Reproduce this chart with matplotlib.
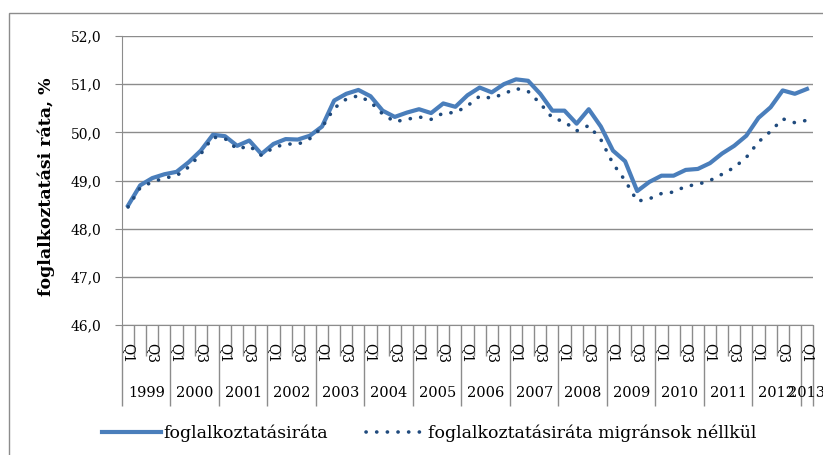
import numpy as np
import matplotlib.pyplot as plt
from matplotlib.patches import Rectangle
from matplotlib.lines import Line2D
from matplotlib import transforms

# quarterly data 1999 Q1 - 2013 Q1
years = [str(y) for y in range(1999, 2014)]
quarters = ["Q1", "Q2", "Q3", "Q4"] * 14 + ["Q1"]

rate = [48.48, 48.9, 49.05, 49.13, 49.18, 49.38, 49.62, 49.95, 49.92, 49.72,
        49.83, 49.55, 49.76, 49.86, 49.85, 49.93, 50.12, 50.66, 50.8, 50.88,
        50.75, 50.45, 50.32, 50.41, 50.48, 50.4, 50.6, 50.53, 50.77, 50.93,
        50.83, 51.0, 51.1, 51.07, 50.8, 50.45, 50.45, 50.18, 50.48, 50.12,
        49.62, 49.4, 48.78, 48.97, 49.1, 49.1, 49.22, 49.24, 49.36, 49.56,
        49.72, 49.93, 50.3, 50.52, 50.87, 50.8, 50.9]

rate_no_migr = [48.45, 48.85, 48.97, 49.05, 49.1, 49.28, 49.55, 49.9, 49.87, 49.65,
                49.72, 49.52, 49.68, 49.76, 49.75, 49.87, 50.1, 50.5, 50.69, 50.76,
                50.63, 50.38, 50.22, 50.27, 50.32, 50.27, 50.4, 50.41, 50.55, 50.75,
                50.71, 50.8, 50.91, 50.85, 50.6, 50.3, 50.22, 50.03, 50.14, 49.85,
                49.35, 49.0, 48.57, 48.62, 48.73, 48.76, 48.88, 48.92, 49.0, 49.13,
                49.27, 49.48, 49.8, 50.02, 50.28, 50.2, 50.25]

yticks = [46, 47, 48, 49, 50, 51, 52]

plt.rcParams['font.family'] = 'DejaVu Serif'
grey = '#8c8c8c'
blue = '#4a7ebb'
dark = '#1f4a7d'

fig = plt.figure(figsize=(8.23, 4.55), dpi=100)
ax = fig.add_axes([122/823, 1 - 325/455, (813-122)/823, (325-36)/455])

x = np.arange(len(rate))
ax.plot(x, rate, color=blue, lw=3, solid_joinstyle='round', zorder=3)
ax.plot(x, rate_no_migr, color=dark, lw=2.6, linestyle=(0, (0.05, 2.9)),
        dash_capstyle='round', zorder=3)

ax.set_xlim(-0.5, len(rate) - 0.5)
ax.set_ylim(46, 52)
ax.set_yticks(yticks)
ax.set_yticklabels([f"{v:.1f}".replace('.', ',') for v in yticks], fontsize=10)
ax.yaxis.grid(True, color=grey, lw=1)
ax.set_axisbelow(True)
ax.tick_params(axis='y', length=5, color=grey, pad=10)

for s in ['top', 'right']:
    ax.spines[s].set_visible(False)
for s in ['left', 'bottom']:
    ax.spines[s].set_color(grey)

# category separators: long at year boundaries, short otherwise
bounds = np.arange(len(rate) + 1) - 0.5
year_bounds = [b for i, b in enumerate(bounds) if i % 4 == 0 or i == len(rate)]
other_bounds = [b for b in bounds if b not in year_bounds]
ax.set_xticks(year_bounds)
ax.set_xticks(other_bounds, minor=True)
ax.set_xticklabels([])
ax.tick_params(axis='x', which='major', length=58, color=grey, width=1)
ax.tick_params(axis='x', which='minor', length=22, color=grey, width=1)

trans = transforms.blended_transform_factory(ax.transData, fig.transFigure)
for i, q in enumerate(quarters):
    if q in ("Q1", "Q3"):
        ax.text(i, 1 - 343/455, q, transform=trans, rotation=-90, fontsize=10,
                ha='center', va='top')
for k, yr in enumerate(years):
    start = 4 * k - 0.5
    end = min(4 * k + 3.5, len(rate) - 0.5)
    ax.text((start + end) / 2, 1 - 393/455, yr, transform=trans, fontsize=10.5,
            ha='center', va='center')

fig.text(46/823, 1 - 187/455, "foglalkoztatási ráta, %", rotation=90,
         fontsize=12.5, fontweight='bold', ha='center', va='center')

handles = [Line2D([], [], color=blue, lw=3),
           Line2D([], [], color=dark, lw=2.6, linestyle=(0, (0.05, 2.9)),
                  dash_capstyle='round')]
fig.legend(handles, ["foglalkoztatásiráta", "foglalkoztatásiráta migránsok néllkül"],
           loc='center', bbox_to_anchor=(429/823, 22/455), ncol=2, frameon=False,
           fontsize=12.5, handlelength=3.4, handletextpad=0.15, columnspacing=2.2)

fig.add_artist(Rectangle((9/823, -0.1), 1.0, 1.1 - 13/455, transform=fig.transFigure,
                         fill=False, edgecolor=grey, lw=1))

fig.savefig('out.png', dpi=100)
